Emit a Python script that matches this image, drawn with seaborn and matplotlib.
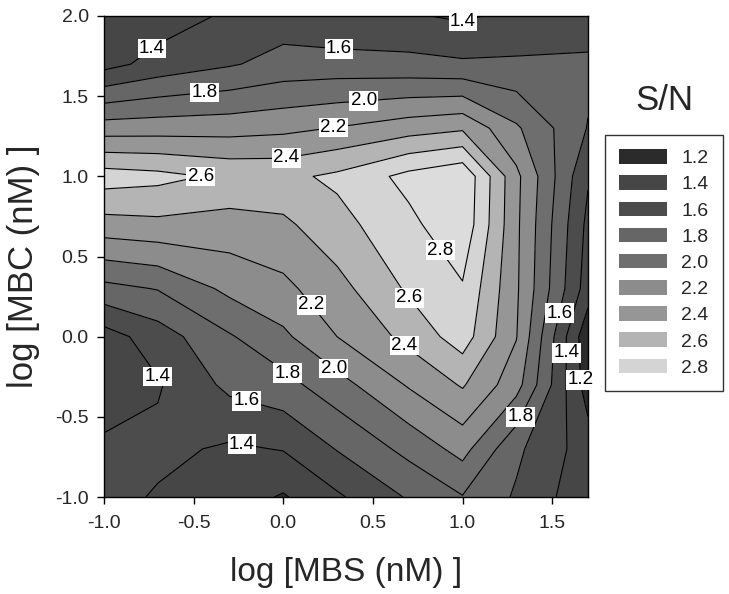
import numpy as np
import matplotlib
matplotlib.use("Agg")
import matplotlib.pyplot as plt
import seaborn as sns
from matplotlib.patches import Patch

# grid coordinates (log concentrations)
mbs_log = [-1.0, -0.7, -0.3, 0.0, 0.3, 0.7, 1.0, 1.3, 1.7]
mbc_log = [-1.0, -0.7, -0.3, 0.0, 0.3, 0.7, 1.0, 1.3, 1.7, 2.0]

# S/N values, one list per MBC row (bottom to top), columns follow mbs_log
sn_mbc_r0 = [1.47, 1.38, 1.30, 1.18, 1.37, 1.62, 1.79, 1.575, 1.26]
sn_mbc_r1 = [1.44, 1.45, 1.37, 1.41, 1.61, 1.86, 2.07, 1.64, 1.30]
sn_mbc_r2 = [1.28, 1.38, 1.65, 1.73, 1.92, 2.22, 2.42, 2.08, 1.10]
sn_mbc_r3 = [1.31, 1.50, 1.78, 1.96, 2.20, 2.46, 2.70, 2.21, 1.05]
sn_mbc_r4 = [1.74, 1.81, 2.05, 2.15, 2.33, 2.63, 2.78, 2.23, 1.30]
sn_mbc_r5 = [2.32, 2.35, 2.32, 2.36, 2.53, 2.75, 2.95, 2.24, 1.35]
sn_mbc_r6 = [2.70, 2.66, 2.56, 2.55, 2.64, 2.86, 2.97, 2.25, 1.42]
sn_mbc_r7 = [2.10, 2.11, 2.12, 2.15, 2.21, 2.31, 2.37, 2.03, 1.59]
sn_mbc_r8 = [1.33, 1.47, 1.58, 1.67, 1.68, 1.66, 1.63, 1.63, 1.65]
sn_mbc_r9 = [1.30, 1.30, 1.43, 1.50, 1.43, 1.42, 1.37, 1.45, 1.45]

levels = [1.2, 1.4, 1.6, 1.8, 2.0, 2.2, 2.4, 2.6, 2.8]
legend_labels = ["1.2", "1.4", "1.6", "1.8", "2.0", "2.2", "2.4", "2.6", "2.8"]
band_colors = ["#2b2b2b", "#464646", "#4c4c4c", "#666666", "#6e6e6e",
               "#8c8c8c", "#969696", "#b4b4b4", "#d4d4d4", "#dcdcdc"]

x_ticks = [-1.0, -0.5, 0.0, 0.5, 1.0, 1.5]
y_ticks = [-1.0, -0.5, 0.0, 0.5, 1.0, 1.5, 2.0]

# contour labels: level and approximate placement (data coords)
label_levels = [1.4, 1.4, 1.6, 1.8, 2.0, 2.2, 2.4, 2.6, 2.8, 2.6, 2.4,
                2.2, 2.0, 1.8, 1.6, 1.4, 1.4, 1.6, 1.4, 1.2, 1.8]
label_pos = [(1.0, 1.98), (-0.72, 1.78), (0.31, 1.77), (-0.44, 1.52),
             (0.45, 1.47), (0.28, 1.30), (0.02, 1.10), (-0.45, 1.0),
             (0.89, 0.55), (0.70, 0.24), (0.66, -0.08), (0.18, 0.22),
             (0.28, -0.20), (0.02, -0.23), (-0.21, -0.42), (-0.73, -0.27),
             (-0.23, -0.67), (1.49, 0.16), (1.46, -0.10), (1.66, -0.27),
             (1.29, -0.48)]

sns.set_theme(style="white")
plt.rcParams['font.family'] = ['Liberation Sans', 'DejaVu Sans']
plt.rcParams['axes.unicode_minus'] = False

W, H = 729, 594
fig = plt.figure(figsize=(W / 100, H / 100), dpi=100)
ax = fig.add_axes([104 / W, 97 / H, 484 / W, 481 / H])

Z = np.array([sn_mbc_r0, sn_mbc_r1, sn_mbc_r2, sn_mbc_r3, sn_mbc_r4,
              sn_mbc_r5, sn_mbc_r6, sn_mbc_r7, sn_mbc_r8, sn_mbc_r9])
X, Y = np.meshgrid(mbs_log, mbc_log)

ax.contourf(X, Y, Z, levels=[0.5] + levels + [3.5], colors=band_colors)
cs = ax.contour(X, Y, Z, levels=levels, colors="black", linewidths=0.8)

# one invisible single-level contour set per level, used only to place labels
label_sets = {lev: ax.contour(X, Y, Z, levels=[lev], colors="black",
                              linewidths=0, alpha=0) for lev in levels}
for lev, pos in zip(label_levels, label_pos):
    texts = label_sets[lev].clabel(fmt="%.1f", manual=[pos], inline=False,
                                   fontsize=13.5, colors="black")
    for t in texts:
        t.set_rotation(0)
        t.set_alpha(1)
        t.set_color("black")
        t.set_bbox(dict(facecolor="white", edgecolor="none", pad=1.0))
        t.set_zorder(5)
        t.set_clip_on(False)

ax.set_xlim(-1.0, 1.7)
ax.set_ylim(-1.0, 2.0)
ax.set_xticks(x_ticks)
ax.set_xticklabels([f"{v:.1f}" for v in x_ticks])
ax.set_yticks(y_ticks)
ax.set_yticklabels([f"{v:.1f}" for v in y_ticks])
ax.tick_params(axis="both", direction="out", length=5, width=1, color="black",
               labelsize=14, bottom=True, left=True)
ax.tick_params(axis="x", pad=8)
ax.tick_params(axis="y", pad=6)
for s in ax.spines.values():
    s.set_color("black")
    s.set_linewidth(1.0)

ax.set_xlabel("log [MBS (nM) ]", fontsize=24)
ax.set_ylabel("log [MBC (nM) ]", fontsize=25)
ax.xaxis.set_label_coords(0.5, -0.125)
ax.yaxis.set_label_coords(-0.132, 0.48)

handles = [Patch(facecolor=band_colors[i], edgecolor="none") for i in range(len(levels))]
leg = fig.legend(handles, legend_labels, loc="upper left",
                 bbox_to_anchor=(605 / W, 1 - 135 / H), borderaxespad=0,
                 fontsize=14, handlelength=2.47, handleheight=0.77,
                 labelspacing=0.42, borderpad=0.73, handletextpad=0.72,
                 fancybox=False, frameon=True)
leg.get_frame().set_edgecolor("black")
leg.get_frame().set_linewidth(1.0)
fig.text(664 / W, 1 - 100 / H, "S/N", ha="center", va="center", fontsize=25)

fig.savefig("out.png", dpi=100)
